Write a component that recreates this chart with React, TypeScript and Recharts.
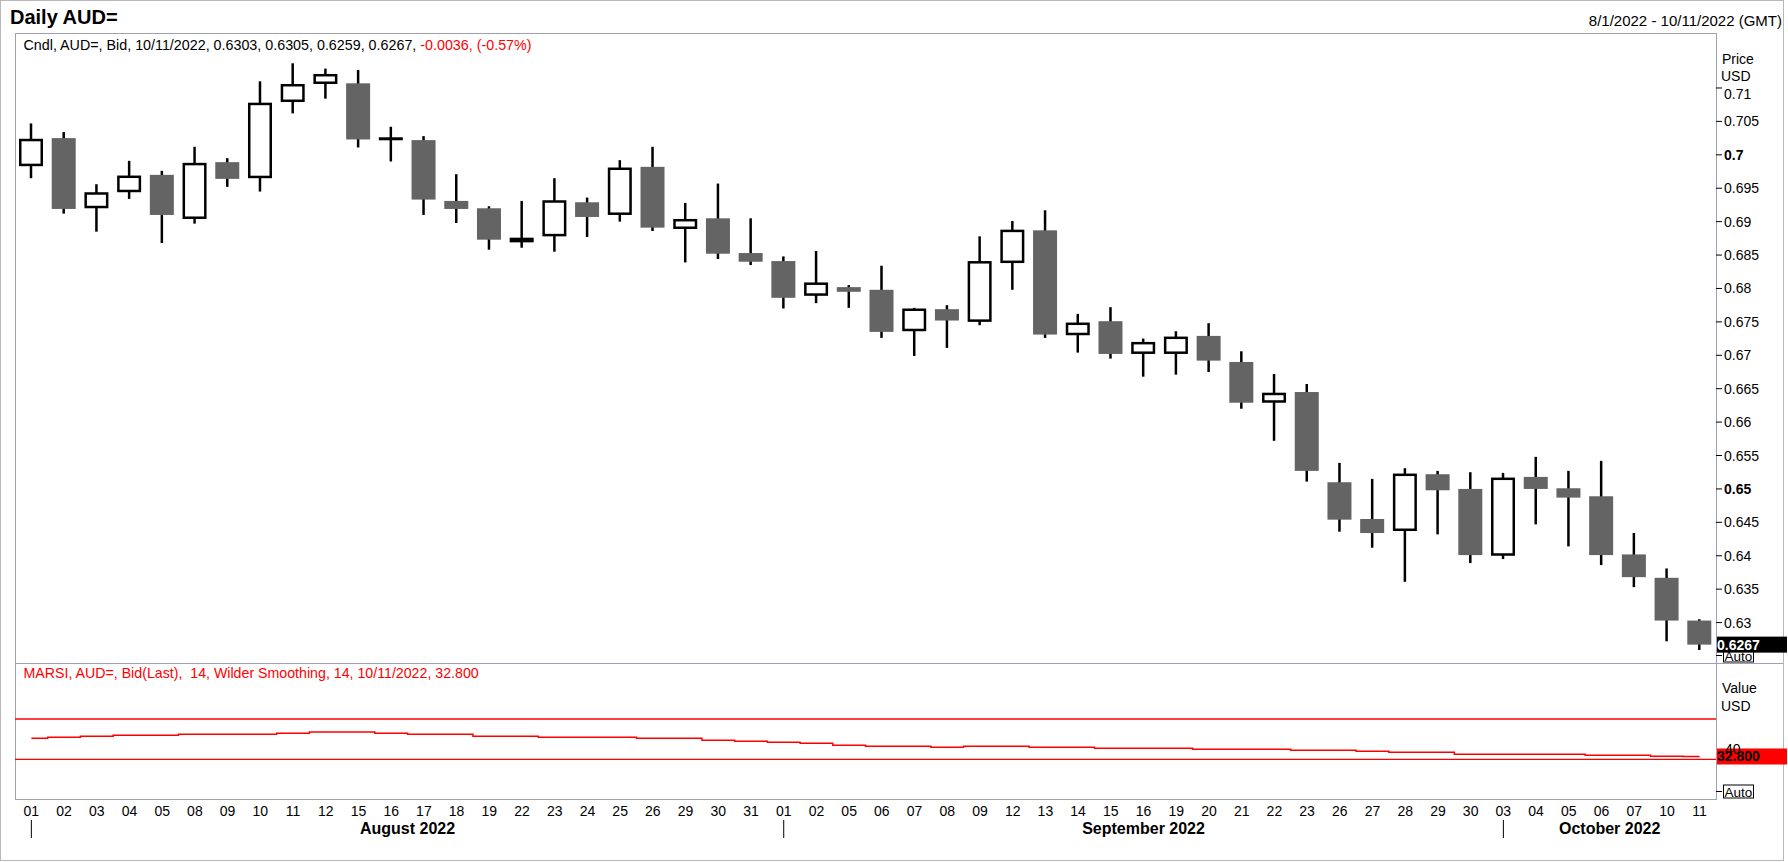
import React from 'react';
import { ComposedChart, Bar, Line, XAxis, YAxis, ReferenceLine } from 'recharts';

// trading days shown on the chart
const dates = [
  '2022-08-01', '2022-08-02', '2022-08-03', '2022-08-04', '2022-08-05', '2022-08-08', '2022-08-09', '2022-08-10',
  '2022-08-11', '2022-08-12', '2022-08-15', '2022-08-16', '2022-08-17', '2022-08-18', '2022-08-19', '2022-08-22',
  '2022-08-23', '2022-08-24', '2022-08-25', '2022-08-26', '2022-08-29', '2022-08-30', '2022-08-31',
  '2022-09-01', '2022-09-02', '2022-09-05', '2022-09-06', '2022-09-07', '2022-09-08', '2022-09-09', '2022-09-12',
  '2022-09-13', '2022-09-14', '2022-09-15', '2022-09-16', '2022-09-19', '2022-09-20', '2022-09-21', '2022-09-22',
  '2022-09-23', '2022-09-26', '2022-09-27', '2022-09-28', '2022-09-29', '2022-09-30',
  '2022-10-03', '2022-10-04', '2022-10-05', '2022-10-06', '2022-10-07', '2022-10-10', '2022-10-11',
];

const opens = [
  0.6983, 0.7025, 0.6920, 0.6944, 0.6970, 0.6904, 0.6989, 0.6965, 0.7079, 0.7106, 0.7107, 0.7024, 0.7022,
  0.6931, 0.6920, 0.6869, 0.6878, 0.6929, 0.6910, 0.6982, 0.6889, 0.6905, 0.6853,
  0.6841, 0.6789, 0.6802, 0.6798, 0.6736, 0.6769, 0.6750, 0.6838, 0.6887, 0.6730, 0.6751, 0.6702, 0.6702,
  0.6729, 0.6690, 0.6629, 0.6645, 0.6510, 0.6455, 0.6437, 0.6522, 0.6500,
  0.6400, 0.6518, 0.6501, 0.6489, 0.6402, 0.6367, 0.6303,
];
const highs = [
  0.7047, 0.7034, 0.6956, 0.6991, 0.6976, 0.7012, 0.6995, 0.7110, 0.7137, 0.7129, 0.7127, 0.7042, 0.7028,
  0.6971, 0.6923, 0.6931, 0.6965, 0.6936, 0.6992, 0.7012, 0.6928, 0.6957, 0.6905,
  0.6848, 0.6856, 0.6805, 0.6834, 0.6771, 0.6775, 0.6878, 0.6901, 0.6917, 0.6762, 0.6772, 0.6725, 0.6736,
  0.6748, 0.6706, 0.6672, 0.6657, 0.6539, 0.6515, 0.6531, 0.6527, 0.6525,
  0.6524, 0.6548, 0.6527, 0.6542, 0.6434, 0.6381, 0.6305,
];
const lows = [
  0.6965, 0.6912, 0.6885, 0.6934, 0.6868, 0.6897, 0.6952, 0.6945, 0.7062, 0.7084, 0.7011, 0.6990, 0.6910,
  0.6898, 0.6858, 0.6861, 0.6855, 0.6877, 0.6900, 0.6886, 0.6839, 0.6844, 0.6835,
  0.6770, 0.6778, 0.6771, 0.6726, 0.6699, 0.6711, 0.6745, 0.6798, 0.6726, 0.6704, 0.6695, 0.6668, 0.6671,
  0.6675, 0.6620, 0.6572, 0.6511, 0.6436, 0.6412, 0.6361, 0.6432, 0.6389,
  0.6395, 0.6447, 0.6414, 0.6386, 0.6353, 0.6272, 0.6259,
];
const closes = [
  0.7024, 0.6919, 0.6944, 0.6969, 0.6910, 0.6988, 0.6964, 0.7078, 0.7106, 0.7121, 0.7023, 0.7024, 0.6933,
  0.6919, 0.6873, 0.6876, 0.6932, 0.6907, 0.6981, 0.6891, 0.6904, 0.6852, 0.6840,
  0.6786, 0.6809, 0.6795, 0.6735, 0.6770, 0.6752, 0.6841, 0.6888, 0.6731, 0.6749, 0.6702, 0.6720, 0.6728,
  0.6692, 0.6629, 0.6644, 0.6527, 0.6454, 0.6434, 0.6523, 0.6498, 0.6401,
  0.6517, 0.6500, 0.6487, 0.6401, 0.6368, 0.6303, 0.6267,
];

const rsi = [
  50.8, 51.8, 52.8, 53.8, 53.8, 54.8, 54.8, 54.8, 55.8, 57.1, 57.1, 55.8, 54.8,
  54.8, 52.8, 52.8, 51.8, 51.8, 51.8, 50.8, 50.8, 48.9, 47.9,
  46.9, 45.9, 43.9, 42.9, 42.9, 41.9, 42.9, 42.9, 41.9, 41.9, 40.9, 40.9, 40.9,
  39.9, 39.9, 39.9, 38.9, 38.9, 37.9, 36.9, 36.9, 35.0,
  35.0, 35.0, 35.0, 34.0, 34.0, 33.0, 32.8,
];

const priceTicks = [0.63, 0.635, 0.64, 0.645, 0.65, 0.655, 0.66, 0.665, 0.67, 0.675, 0.68, 0.685, 0.69, 0.695, 0.7, 0.705, 0.71];
const boldPriceTicks = [0.65, 0.7];
const rsiTicks = [40];
const rsiBands = [70, 30];
const monthNames: Record<string, string> = { '08': 'August 2022', '09': 'September 2022', '10': 'October 2022' };

const W = 1788;
const H = 862;
const PLOT_L = 15;
const PLOT_R = 1716;
const PRICE_TOP = 33;
const PRICE_BOTTOM = 663;
const RSI_BOTTOM = 799;
const AXIS_W = W - PLOT_R;
const PRICE_DOMAIN = [0.62395, 0.71823];
const RSI_DOMAIN = [-9.4, 125.6];
const FONT = '"Liberation Sans", Arial, sans-serif';
const FRAME = '#a0a0b0';
const DOWN = '#646464';
const RED = '#ff0000';

const priceData = dates.map((d, i) => ({
  date: d,
  range: [lows[i], highs[i]],
  open: opens[i],
  high: highs[i],
  low: lows[i],
  close: closes[i],
}));
const rsiData = dates.map((d, i) => ({ date: d, rsi: rsi[i] }));

const last = dates.length - 1;
const fmtDate = (d: string) => {
  const [y, m, dd] = d.split('-');
  return `${Number(m)}/${Number(dd)}/${y}`;
};
const change = closes[last] - closes[last - 1];
const changePct = (change / closes[last - 1]) * 100;

const Candle = (props: any) => {
  const { x, y, width, height, payload } = props;
  if (!payload || x == null) return null;
  const { open, close, high, low } = payload;
  const yTop = Math.min(y, y + height);
  const h = Math.abs(height);
  const py = (v: number) => yTop + ((high - v) / (high - low)) * h;
  const cx = x + width / 2;
  const top = py(Math.max(open, close));
  const bot = py(Math.min(open, close));
  let body;
  if (bot - top < 1.5) {
    body = <rect x={x} y={top - 1.5} width={width} height={3} fill="#000" />;
  } else if (close > open) {
    body = <rect x={x + 1.25} y={top + 1.25} width={width - 2.5} height={bot - top - 2.5} fill="#fff" stroke="#000" strokeWidth={2.5} />;
  } else {
    body = <rect x={x} y={top} width={width} height={bot - top} fill={DOWN} />;
  }
  return (
    <g>
      <line x1={cx} x2={cx} y1={yTop} y2={yTop + h} stroke="#000" strokeWidth={2.5} />
      {body}
    </g>
  );
};

const PriceTick = (props: any) => {
  const { y, payload } = props;
  const v: number = payload.value;
  const bold = boldPriceTicks.some((b) => Math.abs(b - v) < 1e-9);
  const isTop = Math.abs(v - priceTicks[priceTicks.length - 1]) < 1e-9;
  return (
    <g>
      <line x1={PLOT_R} x2={PLOT_R + 6} y1={y} y2={y} stroke="#000" strokeWidth={1} />
      <text x={PLOT_R + 8} y={y + 5 + (isTop ? 6.5 : 0)} fontSize={14} fontWeight={bold ? 'bold' : 'normal'} fontFamily={FONT} fill="#000">
        {String(Number(v.toFixed(3)))}
      </text>
    </g>
  );
};

const RsiTick = (props: any) => {
  const { y, payload } = props;
  return (
    <text x={PLOT_R + 9} y={y + 5} fontSize={14} fontFamily={FONT} fill="#000">
      {payload.value}
    </text>
  );
};

const DayTick = (props: any) => {
  const { x, payload } = props;
  const date: string = payload.value;
  const i = dates.indexOf(date);
  const mm = date.slice(5, 7);
  const dd = date.slice(8, 10);
  const axisY = RSI_BOTTOM - PRICE_BOTTOM;
  const monthStart = i === 0 || dates[i - 1].slice(5, 7) !== mm;
  let month = null;
  if (monthStart) {
    const step = (PLOT_R - PLOT_L) / dates.length;
    const next = dates.findIndex((d, j) => j > i && d.slice(5, 7) !== mm);
    const mid = next > 0 ? x + ((next - i) * step) / 2 : (x + PLOT_R) / 2;
    month = (
      <g>
        <line x1={x} x2={x} y1={axisY + 21} y2={axisY + 39} stroke="#000" strokeWidth={1} />
        <text x={mid} y={axisY + 35} textAnchor="middle" fontSize={16} fontWeight="bold" fontFamily={FONT} fill="#000">
          {monthNames[mm]}
        </text>
      </g>
    );
  }
  return (
    <g>
      <text x={x} y={axisY + 17} textAnchor="middle" fontSize={14} fontFamily={FONT} fill="#000">
        {dd}
      </text>
      {month}
    </g>
  );
};

const valueTag = (text: string, fill: string, color: string) => (props: any) => {
  const vb = props.viewBox || {};
  const y = vb.y ?? 0;
  return (
    <g>
      <rect x={PLOT_R + 1} y={y - 8} width={W - PLOT_R - 2} height={16} fill={fill} />
      <text x={PLOT_R + 1} y={y + 5} fontSize={14} fontWeight="bold" fontFamily={FONT} fill={color}>
        {text}
      </text>
    </g>
  );
};

const AutoBox = ({ y }: { y: number }) => (
  <g>
    <line x1={PLOT_R} x2={PLOT_R + 6} y1={y} y2={y} stroke="#000" strokeWidth={1} />
    <rect x={PLOT_R + 7.5} y={y - 6.5} width={30} height={13} fill="#fff" stroke="#000" strokeWidth={1} />
    <text x={PLOT_R + 8.5} y={y + 5} fontSize={13.5} fontFamily={FONT} fill="#000">Auto</text>
  </g>
);

export default function App() {
  return (
    <div style={{ position: 'absolute', left: 0, top: 0, width: W, height: H, background: '#fff', fontFamily: FONT }}>
      <svg width={W} height={H} style={{ position: 'absolute', left: 0, top: 0 }}>
        <rect x={0.5} y={0.5} width={1783} height={860} fill="none" stroke="#b8b8b8" />
        <rect x={PLOT_L + 0.5} y={PRICE_TOP + 0.5} width={PLOT_R - PLOT_L} height={RSI_BOTTOM - PRICE_TOP} fill="none" stroke={FRAME} />
        <line x1={PLOT_L} x2={1783} y1={PRICE_BOTTOM + 0.5} y2={PRICE_BOTTOM + 0.5} stroke={FRAME} />

        <text x={10} y={24} fontSize={20} fontWeight="bold" fontFamily={FONT} fill="#000">Daily AUD=</text>
        <text x={1782} y={26} textAnchor="end" fontSize={15} fontFamily={FONT} fill="#000">
          {`${fmtDate(dates[0])} - ${fmtDate(dates[last])} (GMT)`}
        </text>

        <text x={23.5} y={49.5} fontSize={14.3} fontFamily={FONT} fill="#000">
          {`Cndl, AUD=, Bid, ${fmtDate(dates[last])}, ${opens[last].toFixed(4)}, ${highs[last].toFixed(4)}, ${lows[last].toFixed(4)}, ${closes[last].toFixed(4)}, `}
          <tspan fill={RED}>{`${change.toFixed(4)}, (${changePct.toFixed(2)}%)`}</tspan>
        </text>
        <text x={23.5} y={678} fontSize={14.2} fontFamily={FONT} fill={RED} style={{ whiteSpace: 'pre' }}>
          {`MARSI, AUD=, Bid(Last),  14, Wilder Smoothing, 14, ${fmtDate(dates[last])}, ${rsi[last].toFixed(3)}`}
        </text>

        <text x={1722} y={63.5} fontSize={14} fontFamily={FONT} fill="#000">Price</text>
        <text x={1721} y={81} fontSize={14} fontFamily={FONT} fill="#000">USD</text>
        <text x={1722} y={693} fontSize={14} fontFamily={FONT} fill="#000">Value</text>
        <text x={1721} y={710.5} fontSize={14} fontFamily={FONT} fill="#000">USD</text>

        <AutoBox y={655.5} />
        <AutoBox y={791.5} />
      </svg>

      <div style={{ position: 'absolute', left: 0, top: 0 }}>
        <ComposedChart width={W} height={PRICE_BOTTOM} data={priceData} margin={{ top: PRICE_TOP, right: 0, bottom: 0, left: PLOT_L }}>
          <XAxis dataKey="date" hide />
          <YAxis
            orientation="right"
            width={AXIS_W}
            domain={PRICE_DOMAIN}
            ticks={priceTicks}
            allowDataOverflow
            interval={0}
            axisLine={false}
            tickLine={false}
            tick={(p: any) => <PriceTick {...p} />}
          />
          <Bar dataKey="range" barSize={24} isAnimationActive={false} shape={(p: any) => <Candle {...p} />} />
          <ReferenceLine y={closes[last]} stroke="none" label={valueTag(closes[last].toFixed(4), '#000', '#fff')} />
        </ComposedChart>
      </div>

      <div style={{ position: 'absolute', left: 0, top: PRICE_BOTTOM }}>
        <ComposedChart width={W} height={H - PRICE_BOTTOM} data={rsiData} margin={{ top: 0, right: 0, bottom: 0, left: PLOT_L }}>
          <XAxis
            dataKey="date"
            scale="band"
            height={H - RSI_BOTTOM}
            interval={0}
            axisLine={false}
            tickLine={false}
            tick={(p: any) => <DayTick {...p} />}
          />
          <YAxis
            orientation="right"
            width={AXIS_W}
            domain={RSI_DOMAIN}
            ticks={rsiTicks}
            allowDataOverflow
            interval={0}
            axisLine={false}
            tickLine={false}
            tick={(p: any) => <RsiTick {...p} />}
          />
          {rsiBands.map((b) => (
            <ReferenceLine key={b} y={b} stroke={RED} strokeWidth={1.3} />
          ))}
          <Line dataKey="rsi" type="step" stroke={RED} strokeWidth={1.5} dot={false} isAnimationActive={false} />
          <ReferenceLine y={rsi[last]} stroke="none" label={valueTag(rsi[last].toFixed(3), RED, '#000')} />
        </ComposedChart>
      </div>
    </div>
  );
}
